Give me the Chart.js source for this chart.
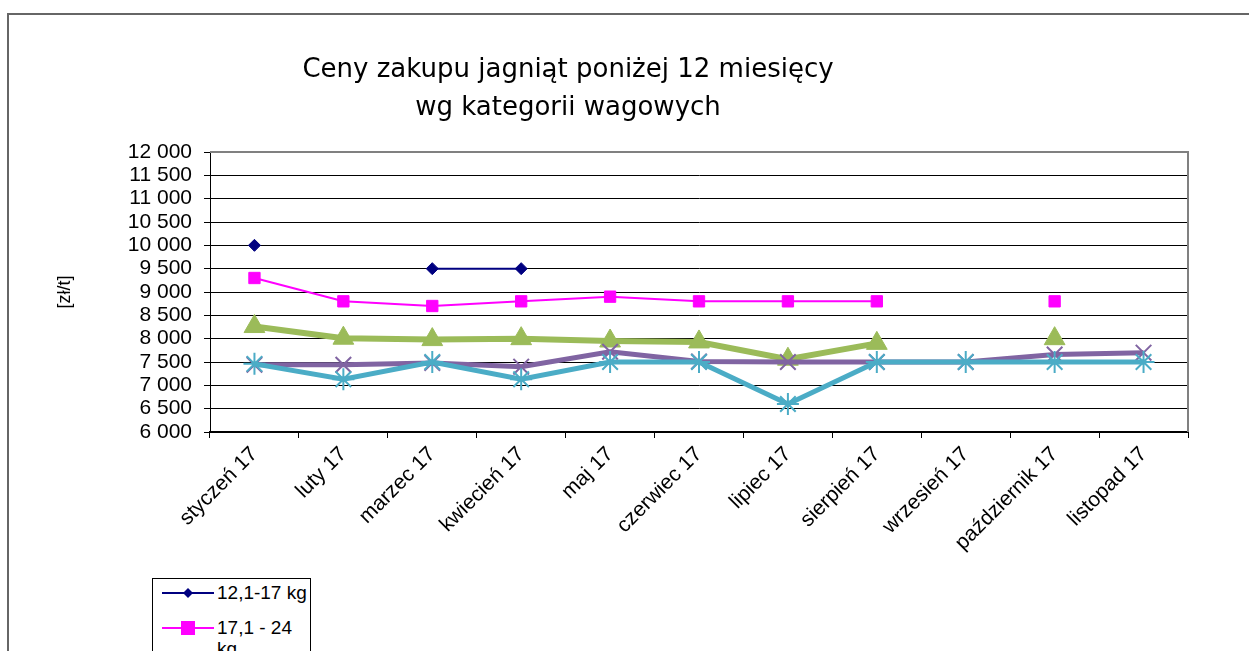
<!DOCTYPE html>
<html>
<head>
<meta charset="utf-8">
<script src="https://cdn.jsdelivr.net/npm/chart.js@4/dist/chart.umd.min.js"></script>
<style>
  html, body { margin: 0; padding: 0; background: #fff; overflow: hidden; }
  #wrap { position: relative; width: 1249px; height: 651px; overflow: hidden; }
  #frame { position: absolute; left: 7px; top: 13px; width: 1300px; height: 700px;
           border-left: 2px solid #666; border-top: 2px solid #666; }
  #title { position: absolute; left: 218px; width: 700px; top: 49px; text-align: center;
           font-family: "DejaVu Sans", sans-serif; font-size: 26px; line-height: 38px; color: #000; }
  #mycanvas { position: absolute; left: 0; top: 0; }
  #legend { position: absolute; left: 152px; top: 578px; width: 157px; height: 120px;
            border: 1px solid #000; background: #fff; font-family: "Liberation Sans", Arial, sans-serif;
            font-size: 19px; }
  .item { display: flex; align-items: flex-start; margin: 3px 0 14px 9px; }
  .item svg { flex: none; margin-top: 3px; margin-right: 3px; }
  .item span { width: 93px; line-height: 21px; }
</style>
</head>
<body>
<div id="wrap">
  <div id="frame"></div>
  <canvas id="mycanvas" width="1249" height="651"></canvas>
  <div id="title">Ceny zakupu jagniąt poniżej 12 miesięcy<br>wg kategorii wagowych</div>
  <div id="legend"></div>
</div>
<script>
// months
var months = ['styczeń 17','luty 17','marzec 17','kwiecień 17','maj 17','czerwiec 17',
              'lipiec 17','sierpień 17','wrzesień 17','październik 17','listopad 17'];

// prices [zł/t] per weight class
var kg12_17  = [10000, null, 9500, 9500, null, null, null, null, null, null, null];
var kg17_24  = [9300, 8800, 8700, 8800, 8900, 8800, 8800, 8800, null, 8800, null];
var kg24_30  = [8260, 8010, 7980, 8000, 7950, 7930, 7560, 7900, null, 8000, null];
var kg30_40  = [7440, 7440, 7480, 7400, 7720, 7510, 7500, 7500, 7500, 7660, 7700];
var kg40plus = [7460, 7130, 7500, 7130, 7500, 7500, 6600, 7500, 7500, 7500, 7500];

var names = ['12,1-17 kg', '17,1 - 24 kg', '24,1 - 30 kg', '30,1 - 40 kg', 'powyżej 40 kg'];

var yMin = 6000, yMax = 12000, yStep = 500;

var series = [
  { data: kg12_17,  color: '#000080', width: 2, style: 'rectRot',  radius: 6,  bw: 1 },
  { data: kg17_24,  color: '#FF00FF', width: 2, style: 'rect',     radius: 8,  bw: 1 },
  { data: kg24_30,  color: '#9BBB59', width: 6, style: 'triangle', radius: 12, bw: 1 },
  { data: kg30_40,  color: '#8064A2', width: 5, style: 'crossRot', radius: 11, bw: 2 },
  { data: kg40plus, color: '#4BACC6', width: 5, style: 'star',     radius: 11, bw: 2 }
];

var datasets = series.map(function(s, i) {
  return {
    label: names[i],
    data: s.data,
    borderColor: s.color,
    backgroundColor: s.color,
    borderWidth: s.width,
    pointStyle: s.style,
    pointRadius: s.radius,
    pointBorderWidth: s.bw,
    pointBackgroundColor: s.color,
    pointBorderColor: s.color,
    spanGaps: false,
    tension: 0,
    order: series.length - 1 - i
  };
});

// frame round the plot area (top and right side grey)
var plotFrame = {
  id: 'plotFrame',
  afterDraw: function(chart) {
    var a = chart.chartArea, c = chart.ctx;
    c.save();
    c.strokeStyle = '#808080';
    c.lineWidth = 2;
    c.beginPath();
    c.moveTo(a.left, a.top);
    c.lineTo(a.right, a.top);
    c.lineTo(a.right, a.bottom);
    c.stroke();
    c.restore();
  }
};

var ctx = document.getElementById('mycanvas');
var mycanvas = new Chart(ctx, {
  type: 'line',
  data: { labels: months, datasets: datasets },
  plugins: [plotFrame],
  options: {
    responsive: false,
    animation: false,
    events: [],
    layout: { padding: { left: 54, right: 61, top: 152, bottom: 0 } },
    plugins: { legend: { display: false }, title: { display: false }, tooltip: { enabled: false } },
    scales: {
      x: {
        offset: true,
        afterFit: function(s) { s.height = 651 - 432; },
        grid: { offset: true, drawOnChartArea: false, drawTicks: true, tickLength: 6, color: '#000' },
        border: { color: '#000', width: 2 },
        ticks: { color: '#000', maxRotation: 45, minRotation: 45, autoSkip: false, padding: 4,
                 font: { family: 'Liberation Sans', size: 21 } }
      },
      y: {
        min: yMin, max: yMax,
        afterFit: function(s) { s.width = 210 - 54; },
        title: { display: true, text: '[zł/t]', color: '#000', padding: 0,
                 font: { family: 'Liberation Sans', size: 18 } },
        grid: { color: '#000', lineWidth: 1, tickLength: 6 },
        border: { color: '#000', width: 1 },
        ticks: { stepSize: yStep, autoSkip: false, color: '#000', padding: 12,
                 font: { family: 'Liberation Sans', size: 21 },
                 callback: function(v) { return String(v).replace(/\B(?=(\d{3})+(?!\d))/g, ' '); } }
      }
    }
  }
});

// legend box (html), markers drawn in small svg
var legendHtml = '';
series.forEach(function(s, i) {
  var mk = '';
  if (s.style === 'rectRot') mk = '<polygon points="26,3 31,8 26,13 21,8" fill="' + s.color + '"/>';
  else if (s.style === 'rect') mk = '<rect x="19" y="1" width="14" height="14" fill="' + s.color + '"/>';
  else if (s.style === 'triangle') mk = '<polygon points="26,0 33,14 19,14" fill="' + s.color + '"/>';
  else mk = '<path d="M20,2 L32,14 M32,2 L20,14" stroke="' + s.color + '" stroke-width="2"/>';
  legendHtml += '<div class="item"><svg width="52" height="16"><line x1="0" y1="8" x2="52" y2="8" stroke="' +
    s.color + '" stroke-width="' + Math.min(s.width, 3) + '"/>' + mk + '</svg><span>' + names[i] + '</span></div>';
});
document.getElementById('legend').innerHTML = legendHtml;
</script>
</body>
</html>
